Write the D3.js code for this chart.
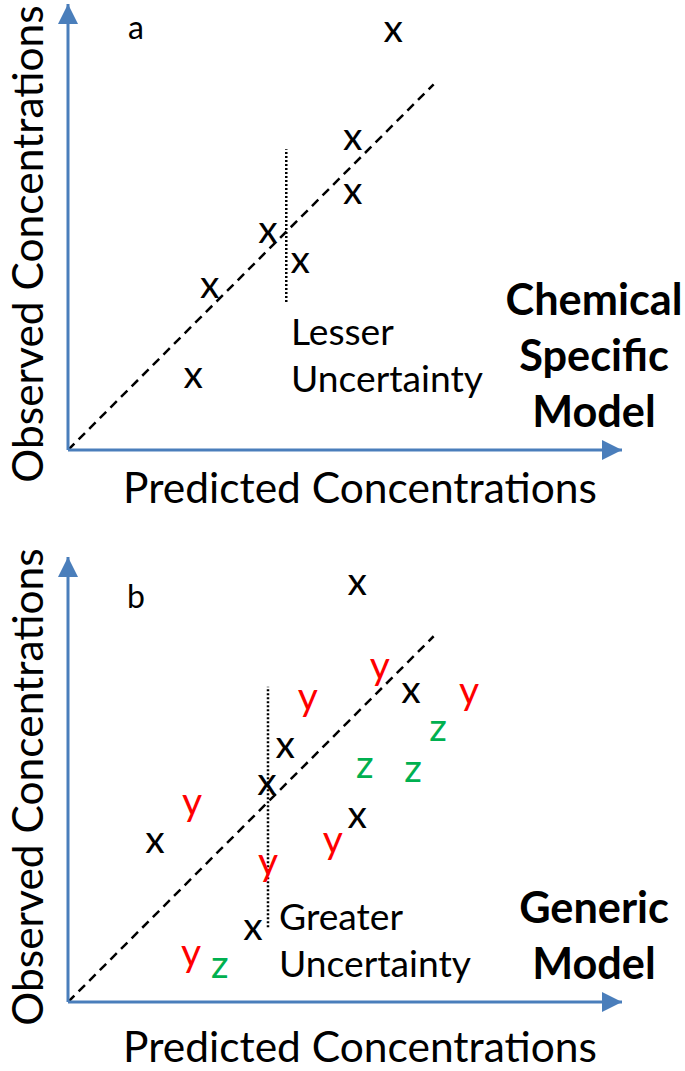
<!DOCTYPE html>
<html>
<head>
<meta charset="utf-8">
<script src="https://cdn.jsdelivr.net/npm/d3@7"></script>
<style>
  html, body { margin: 0; padding: 0; background: #fff; }
  svg { display: block; }
</style>
</head>
<body>
<div class="chart"></div>
<script>
// panel a: chemical specific model (predicted vs observed, arbitrary units)
var predictedA = [58.7, 51.4, 51.4, 36.1, 41.9, 25.6, 22.6];
var observedA  = [75.5, 56.0, 46.2, 39.2, 33.8, 29.2, 13.0];
var symbolsA   = ['x', 'x', 'x', 'x', 'x', 'x', 'x'];

// panel b: generic model, three chemicals x / y / z
var predictedB = [52.2, 56.3, 61.9, 72.4, 43.3, 66.8, 39.2, 53.6, 62.3, 35.9, 52.2, 47.8, 36.1, 15.7, 22.4, 33.4, 22.2, 27.4];
var observedB  = [75.3, 60.1, 55.8, 55.6, 54.5, 48.9, 45.8, 42.2, 41.5, 39.2, 33.2, 28.7, 24.7, 28.7, 35.6, 13.0, 8.3, 6.1];
var symbolsB   = ['x', 'y', 'x', 'y', 'y', 'z', 'x', 'z', 'z', 'x', 'x', 'y', 'y', 'x', 'y', 'x', 'y', 'z'];

// 1:1 line and the spread marker (predicted value, observed low, observed high)
var identityLine = [0, 66];
var spreadA = [39.4, 26.7, 54.3];
var spreadB = [36.1, 13.5, 56.9];

var FONT = 'Lato, "Open Sans", sans-serif';
var AXIS = '#4a7ebb';
var symbolColor = {x: '#000000', y: '#ff0000', z: '#00b050'};

var width = 685, height = 1071;

var svg = d3.select('.chart')
  .append('svg')
  .attr('width', width)
  .attr('height', height);

function fitFont(text, weight, target) {
  var t = svg.append('text')
    .attr('font-family', FONT)
    .attr('font-weight', weight)
    .attr('font-size', 100)
    .text(text);
  var w = t.node().getComputedTextLength();
  t.remove();
  return 100 * target / w;
}

var labelSize = fitFont('Predicted Concentrations', 400, 474);
var noteSize = fitFont('Uncertainty', 400, 192);
var boldSize = fitFont('Chemical', 700, 177);
var markSize = 39;

svg.append('defs').append('marker')
  .attr('id', 'arrow')
  .attr('viewBox', '0 0 10 10')
  .attr('refX', 10)
  .attr('refY', 5)
  .attr('markerUnits', 'userSpaceOnUse')
  .attr('markerWidth', 20)
  .attr('markerHeight', 20)
  .attr('orient', 'auto')
  .append('path')
  .attr('d', 'M0,0 L10,5 L0,10 Z')
  .attr('fill', AXIS);

var x = d3.scaleLinear().domain([0, 100]).range([68, 622]);

function drawPanel(opt) {
  var y = d3.scaleLinear().domain([0, opt.yMax]).range([opt.bottom, opt.top]);
  var g = svg.append('g');

  // 1:1 line
  g.append('line')
    .attr('x1', x(identityLine[0])).attr('y1', y(identityLine[0]))
    .attr('x2', x(identityLine[1])).attr('y2', y(identityLine[1]))
    .attr('stroke', '#000')
    .attr('stroke-width', 2.5)
    .attr('stroke-dasharray', '9,6');

  // spread of observed values
  g.append('line')
    .attr('x1', x(opt.spread[0])).attr('y1', y(opt.spread[1]))
    .attr('x2', x(opt.spread[0])).attr('y2', y(opt.spread[2]))
    .attr('stroke', '#000')
    .attr('stroke-width', 2.5)
    .attr('stroke-dasharray', '2,2');

  // axes with arrow heads
  g.append('line')
    .attr('x1', x(0)).attr('y1', y(0))
    .attr('x2', x(0)).attr('y2', y(opt.yMax))
    .attr('stroke', AXIS)
    .attr('stroke-width', 3)
    .attr('marker-end', 'url(#arrow)');
  g.append('line')
    .attr('x1', x(0)).attr('y1', y(0))
    .attr('x2', x(100)).attr('y2', y(0))
    .attr('stroke', AXIS)
    .attr('stroke-width', 3)
    .attr('marker-end', 'url(#arrow)');

  var pts = opt.pred.map(function (d, i) {
    return {p: d, o: opt.obs[i], s: opt.sym[i]};
  });

  g.selectAll('.mark')
    .data(pts)
    .enter()
    .append('text')
    .attr('class', 'mark')
    .attr('x', function (d) { return x(d.p); })
    .attr('y', function (d) { return y(d.o) + markSize * 0.253; })
    .attr('text-anchor', 'middle')
    .attr('font-family', FONT)
    .attr('font-size', markSize)
    .attr('fill', function (d) { return symbolColor[d.s]; })
    .text(function (d) { return d.s; });

  // panel letter
  g.append('text')
    .attr('x', 136).attr('y', opt.letterY)
    .attr('text-anchor', 'middle')
    .attr('font-family', FONT)
    .attr('font-size', 32)
    .text(opt.letter);

  // uncertainty note
  var note = g.append('text')
    .attr('font-family', FONT)
    .attr('font-size', noteSize);
  note.append('tspan').attr('x', opt.noteX).attr('y', opt.noteY).text(opt.note);
  note.append('tspan').attr('x', opt.noteX).attr('y', opt.noteY + 47).text('Uncertainty');

  // model name
  var name = g.append('text')
    .attr('text-anchor', 'middle')
    .attr('font-family', FONT)
    .attr('font-weight', 700)
    .attr('font-size', boldSize);
  opt.model.forEach(function (line, i, arr) {
    name.append('tspan')
      .attr('x', 594)
      .attr('y', opt.bottom - 23 - (arr.length - 1 - i) * 56)
      .text(line);
  });

  // axis titles
  g.append('text')
    .attr('x', 360).attr('y', opt.xTitleY)
    .attr('text-anchor', 'middle')
    .attr('font-family', FONT)
    .attr('font-size', labelSize)
    .text('Predicted Concentrations');

  g.append('text')
    .attr('transform', 'translate(43,' + opt.yTitleY + ') rotate(-90)')
    .attr('text-anchor', 'middle')
    .attr('font-family', FONT)
    .attr('font-size', labelSize)
    .text('Observed Concentrations');
}

drawPanel({
  top: 4, bottom: 450, yMax: 80.5,
  pred: predictedA, obs: observedA, sym: symbolsA, spread: spreadA,
  letter: 'a', letterY: 39,
  note: 'Lesser', noteX: 291, noteY: 345,
  model: ['Chemical', 'Specific', 'Model'],
  xTitleY: 503, yTitleY: 244
});

drawPanel({
  top: 557, bottom: 1002, yMax: 80.3,
  pred: predictedB, obs: observedB, sym: symbolsB, spread: spreadB,
  letter: 'b', letterY: 608,
  note: 'Greater', noteX: 279, noteY: 930,
  model: ['Generic', 'Model'],
  xTitleY: 1062, yTitleY: 787
});
</script>
</body>
</html>
